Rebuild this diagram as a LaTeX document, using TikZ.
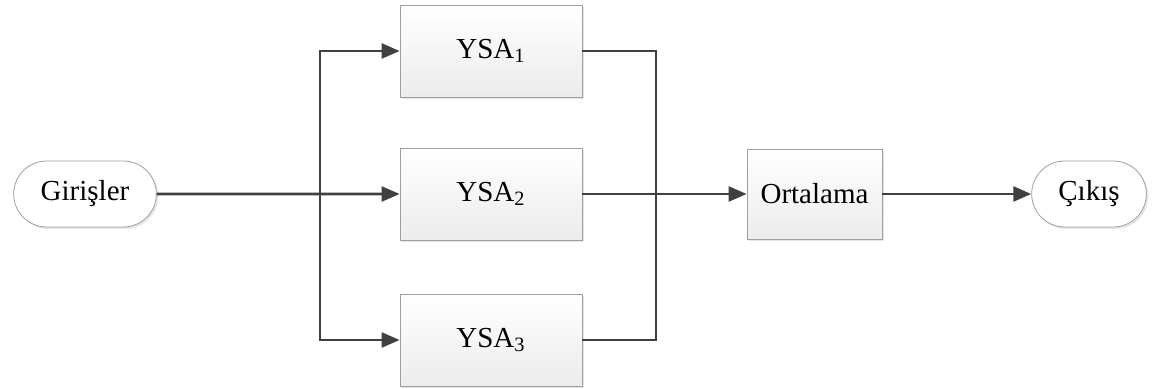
\documentclass[tikz,border=0pt]{standalone}
\usepackage{fontspec}
\setmainfont{Liberation Serif}
\usetikzlibrary{arrows.meta, shapes.misc, shadows}

\begin{document}
\begin{tikzpicture}[x=0.5pt, y=-0.5pt,
  blok/.style={draw=gray!75, top color=white, bottom color=gray!15,
    minimum width=91pt, minimum height=46pt, font=\fontsize{14.5}{17}\selectfont,
    drop shadow={shadow xshift=1pt, shadow yshift=-1pt, fill=gray!40, opacity=0.5}},
  uc/.style={blok, rounded rectangle, top color=white, bottom color=white},
  hat/.style={line width=1.3pt, draw=black!75},
  ok/.style={hat, -{Triangle[length=9pt, width=7.5pt]}}]
\useasboundingbox (0,0) rectangle (1161,389);
% dugumler
\node[uc, minimum width=78pt, minimum height=33pt] (giris) at (85,194) {Girişler};
\node[blok] (ysa1) at (491,51) {YSA\textsubscript{1}};
\node[blok] (ysa2) at (491,194) {YSA\textsubscript{2}};
\node[blok] (ysa3) at (491,340) {YSA\textsubscript{3}};
\node[blok, minimum width=67.5pt, minimum height=45pt] (ort) at (814.5,194) {Ortalama};
\node[uc, minimum width=64pt, minimum height=33pt] (cikis) at (1089,194) {Çıkış};
\coordinate (sol) at (320,194);
\coordinate (sag) at (656,194);
% baglantilar
\draw[ok] (giris) -- (ysa2);
\draw[ok] (sol) |- (ysa1);
\draw[ok] (sol) |- (ysa3);
\draw[hat] (ysa1.east) -| (sag) |- (ysa3.east);
\draw[ok] (ysa2) -- (ort);
\draw[ok] (ort) -- (cikis);
\end{tikzpicture}
\end{document}
